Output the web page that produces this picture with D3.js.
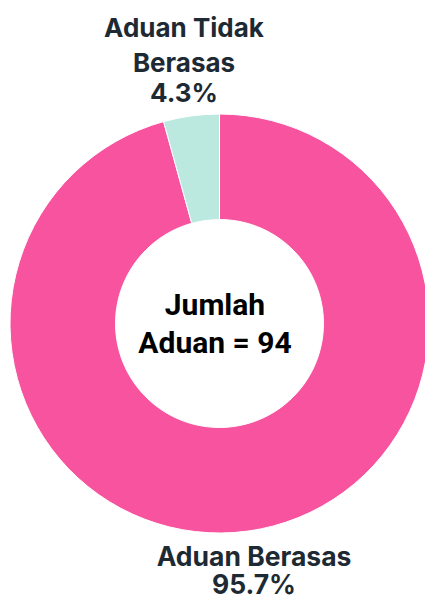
<!DOCTYPE html>
<html>
<head>
<meta charset="utf-8">
<script src="https://cdn.jsdelivr.net/npm/d3@7"></script>
<style>
	body { margin: 0; background: #fff; }
	svg { display: block; }
</style>
</head>
<body>
<div id="chart"></div>
<script>
const categories = ['Aduan Berasas', 'Aduan Tidak Berasas'];
const values = [95.7, 4.3];
const colors = ['#F8539E', '#BCE9DF'];
const total = 94;

const width = 425;
const height = 599;
const cx = 219.5;
const cy = 323.5;
const outerR = 209.5;
const innerR = 104;

let svg = d3.select('#chart').append('svg')
	.attr('width', width)
	.attr('height', height);

let pie = d3.pie().sort(null).value(d => d);
let arc = d3.arc().innerRadius(innerR).outerRadius(outerR);

let g = svg.append('g')
	.attr('transform', `translate(${cx},${cy})`);

g.selectAll('path')
	.data(pie(values))
	.enter().append('path')
	.attr('d', arc)
	.attr('fill', (d, i) => colors[i])
	.attr('stroke', '#fff')
	.attr('stroke-width', 1);

// labels outside the ring
const labelFont = 'Inter, sans-serif';
const labelColor = '#1E2A33';
let labels = [
	{ lines: ['Aduan Berasas', values[0] + '%'], x: 254, ys: [566, 594], size: 26.5 },
	{ lines: ['Aduan Tidak', 'Berasas', values[1] + '%'], x: 184, ys: [37, 72, 102], size: 26 },
];
labels.forEach(l => {
	l.lines.forEach((t, i) => {
		svg.append('text')
			.attr('x', l.x)
			.attr('y', l.ys[i])
			.attr('text-anchor', 'middle')
			.attr('font-family', labelFont)
			.attr('font-weight', 700)
			.attr('font-size', l.size)
			.attr('fill', labelColor)
			.text(t);
	});
});

// centre text
let centre = ['Jumlah', `Aduan = ${total}`];
centre.forEach((t, i) => {
	svg.append('text')
		.attr('x', 215)
		.attr('y', 315 + i * 38)
		.attr('text-anchor', 'middle')
		.attr('font-family', 'Roboto, sans-serif')
		.attr('font-weight', 700)
		.attr('font-size', 30)
		.attr('fill', '#000')
		.text(t);
});
</script>
</body>
</html>
